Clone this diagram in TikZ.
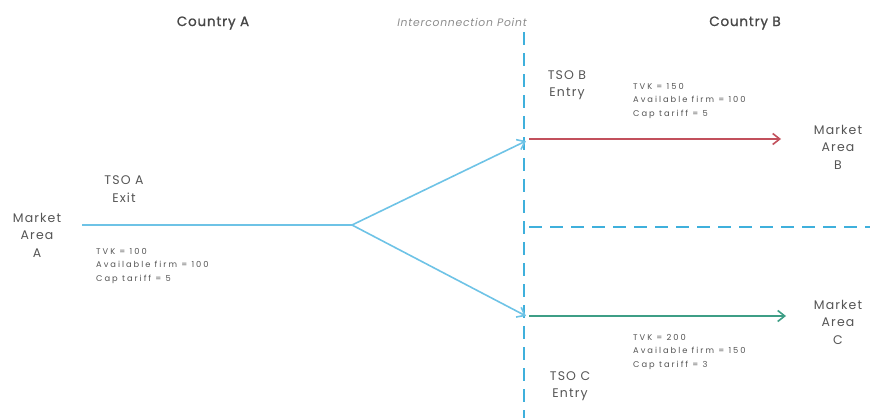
\documentclass[tikz,border=0pt]{standalone}
\usepackage{fontspec}
\setmainfont{Poppins}
\newfontfamily\lblfont{Poppins}[LetterSpace=9]
\newfontfamily\parfont{Poppins}[LetterSpace=24]
\newfontfamily\hdrfont{Poppins}[LetterSpace=6, FakeBold=1.2]
\newfontfamily\ipfont{Poppins}[LetterSpace=7]
\usetikzlibrary{arrows.meta}
\definecolor{lblue}{HTML}{6EC3E6}
\definecolor{dblue}{HTML}{3FB0DC}
\definecolor{rred}{HTML}{C2505C}
\definecolor{ggreen}{HTML}{3E9E86}
\definecolor{txt}{HTML}{555555}
\tikzset{
  lbl/.style={align=center, text=txt, font=\lblfont\fontsize{12.5}{17.5}\selectfont, inner sep=0pt},
  hdr/.style={text=black!72, font=\hdrfont\fontsize{13.5}{15}\selectfont, inner sep=0pt},
  par/.style={align=left, anchor=west, text=txt, font=\parfont\fontsize{8.3}{13.5}\selectfont, inner sep=0pt},
  flow/.style={line width=1.6pt},
  tip/.style={-{Straight Barb[length=7pt,width=11pt,line width=1.6pt]}},
  border/.style={dblue, line width=2.4pt, dash pattern=on 13pt off 8pt}
}
\begin{document}
\begin{tikzpicture}[x=1pt,y=-1pt]
\useasboundingbox (0,0) rectangle (870,418);
\node[hdr] (ca) at (213,23) {Country A};
\node[hdr, font=\ipfont\fontsize{10.8}{12}\selectfont\itshape, text=black!45] (ip) at (462,22) {Interconnection Point};
\node[hdr] (cb) at (745,23) {Country B};

\coordinate (vtop) at (524,32);
\coordinate (vbot) at (524,418);
\coordinate (hl) at (529,227);
\coordinate (hr) at (870,227);
\draw[border] (vtop) -- (vbot);
\draw[border] (hl) -- (hr);

\node[lbl] (maa) at (37,235) {Market\\Area\\A};
\node[lbl] (tsoa) at (124,189) {TSO A\\Exit};
\node[par] (pa) at (96,266) {TVK = 100\\Available firm = 100\\Cap tariff = 5};

\coordinate (start) at (82,225);
\coordinate (split) at (352,225);
\coordinate (eb) at (526,141);
\coordinate (ec) at (526,316);
\draw[flow, lblue] (start) -- (split);
\draw[flow, lblue, tip] (split) -- (eb);
\draw[flow, lblue, tip] (split) -- (ec);

\node[lbl] (tsob) at (567,85) {TSO B\\Entry};
\node[par] (pb) at (633,101) {TVK = 150\\Available firm = 100\\Cap tariff = 5};
\node[lbl] (mab) at (838,147) {Market\\Area\\B};
\coordinate (rb) at (529,139);
\coordinate (re) at (781,139);
\draw[flow, rred, tip] (rb) -- (re);

\coordinate (gb) at (529,316);
\coordinate (ge) at (786,316);
\draw[flow, ggreen, tip] (gb) -- (ge);
\node[lbl] (mac) at (838,322) {Market\\Area\\C};
\node[par] (pc) at (633,352) {TVK = 200\\Available firm = 150\\Cap tariff = 3};
\node[lbl] (tsoc) at (570,386) {TSO C\\Entry};
\end{tikzpicture}
\end{document}
